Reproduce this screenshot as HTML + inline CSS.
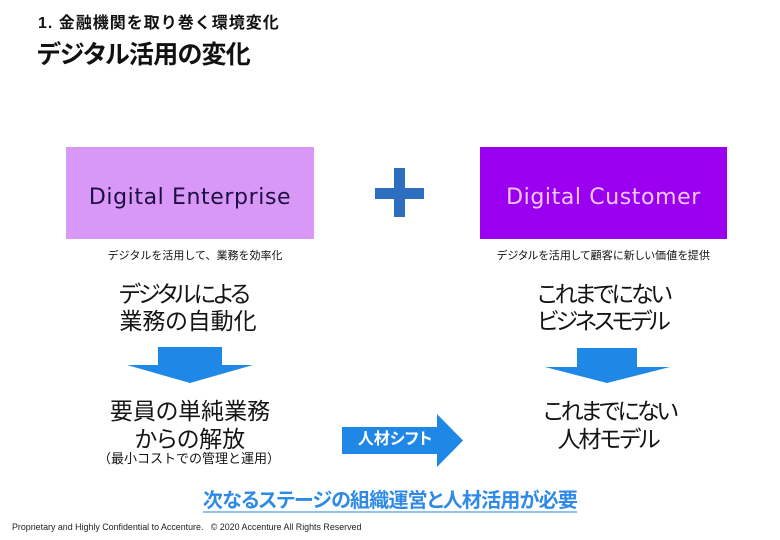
<!DOCTYPE html>
<html>
<head>
<meta charset="utf-8">
<style>
html,body{margin:0;padding:0;background:#fff;}
body{width:780px;height:540px;position:relative;overflow:hidden;font-family:"Liberation Sans","Noto Sans CJK JP",sans-serif;}
.a{position:absolute;white-space:nowrap;}
.jp{font-feature-settings:"palt";}
.big{font-size:23px;line-height:27px;color:#141414;width:300px;text-align:center;}
.box{position:absolute;display:flex;align-items:center;justify-content:center;font-family:"DejaVu Sans","Liberation Sans",sans-serif;font-size:22px;letter-spacing:0.6px;padding-top:8px;box-sizing:border-box;}
.sub{font-size:11px;line-height:13px;color:#111;width:300px;text-align:center;}
</style>
</head>
<body>
<div class="a" style="left:38px;top:13.5px;font-size:16px;line-height:20px;font-weight:bold;color:#111;letter-spacing:1px;">1. 金融機関を取り巻く環境変化</div>
<div class="a jp" style="left:37px;top:40px;font-size:25px;line-height:30px;font-weight:bold;color:#111;letter-spacing:-0.7px;">デジタル活用の変化</div>

<div class="box" style="left:66px;top:147px;width:248px;height:92px;background:#d998f7;color:#1c1040;">Digital Enterprise</div>
<div class="box" style="left:480px;top:147px;width:247px;height:92px;background:#9a00ef;color:#f6c6ff;">Digital Customer</div>

<svg class="a" style="left:0;top:0;" width="780" height="540" viewBox="0 0 780 540">
  <rect x="394" y="168" width="11" height="49" fill="#2d6ebe"/>
  <rect x="375" y="188" width="49" height="11" fill="#2d6ebe"/>
  <polygon points="158,347 222,347 222,365 253,365 190,383 127,365 158,365" fill="#1f88e6"/>
  <polygon points="577,348 637,348 637,367 670,367 607,383 545,367 577,367" fill="#1f88e6"/>
  <polygon points="342,427 437,427 437,414 463,440.5 437,467 437,454 342,454" fill="#1f88e6"/>
  <rect x="203" y="511" width="374" height="2" fill="#8ec2f0"/>
</svg>

<div class="a sub" style="left:45px;top:250px;">デジタルを活用して、業務を効率化</div>
<div class="a sub jp" style="left:453.5px;top:250px;letter-spacing:0.2px;">デジタルを活用して顧客に新しい価値を提供</div>

<div class="a big jp" style="left:33.5px;top:281px;letter-spacing:-2.6px;">デジタルによる</div>
<div class="a big jp" style="left:38px;top:308px;">業務の自動化</div>
<div class="a big jp" style="left:40px;top:398px;">要員の単純業務</div>
<div class="a big jp" style="left:40px;top:426px;">からの解放</div>
<div class="a" style="left:39px;top:451px;width:300px;text-align:center;font-size:13px;line-height:16px;color:#141414;">（最小コストでの管理と運用）</div>

<div class="a big jp" style="left:453.5px;top:281px;letter-spacing:-2.8px;">これまでにない</div>
<div class="a big jp" style="left:452.5px;top:308px;letter-spacing:-3px;">ビジネスモデル</div>
<div class="a big jp" style="left:459.5px;top:398px;letter-spacing:-2.8px;">これまでにない</div>
<div class="a big jp" style="left:458px;top:426px;letter-spacing:-2px;">人材モデル</div>

<div class="a jp" style="left:345px;top:430px;width:100px;text-align:center;font-size:16px;line-height:20px;font-weight:bold;color:#fff;">人材シフト</div>

<div class="a jp" style="left:190px;top:488.5px;width:400px;text-align:center;font-size:20px;line-height:24px;font-weight:bold;color:#2f8ae6;letter-spacing:-0.8px;">次なるステージの組織運営と人材活用が必要</div>

<div class="a" style="left:12px;top:522px;font-size:8.9px;line-height:11px;color:#222;">Proprietary and Highly Confidential to Accenture.&nbsp;&nbsp; © 2020 Accenture All Rights Reserved</div>
</body>
</html>
